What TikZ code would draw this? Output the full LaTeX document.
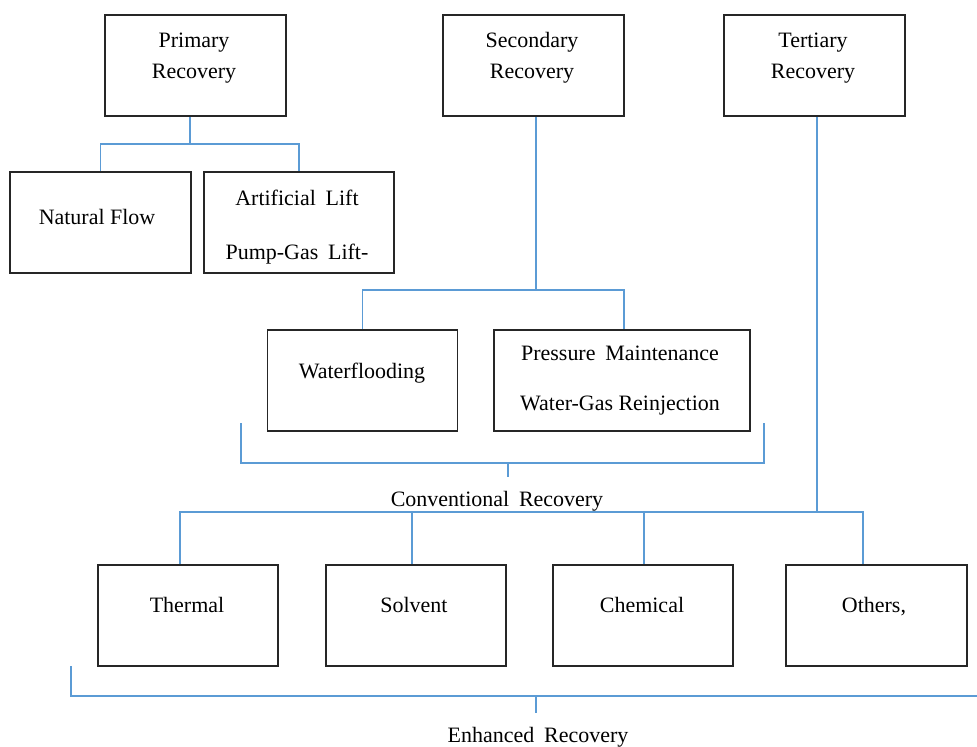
\documentclass[tikz,border=0pt]{standalone}
\usepackage{fontspec}
\setmainfont{Liberation Serif}
\definecolor{linkblue}{RGB}{91,155,213}
\newcommand{\gap}{\hspace{0.45em}}

\begin{document}
\begin{tikzpicture}[x=0.02cm,y=-0.02cm]
        \tikzset{box/.style = {shape=rectangle,draw=black!85,line width=0.9pt,minimum width=3.62cm,minimum height=2.02cm,inner sep=0pt}}
        \tikzset{txt/.style = {align=center,inner sep=0pt,font=\fontsize{12.5}{15}\selectfont}}
        \tikzset{one/.style = {txt,text height=1.5ex,text depth=.25ex}}
        \tikzset{link/.style = {draw=linkblue,line width=0.8pt}}
        \tikzset{bar/.style = {draw=linkblue,line width=1.2pt}}
        \useasboundingbox (0,0) rectangle (977,747);
        % top row
        \node[box] (prim) at (195.5,65.5) {};
        \node[box] (sec) at (533.5,65.5) {};
        \node[box] (tert) at (814.5,65.5) {};
        \node[txt] (primtxt) at (194,58) {Primary\\[2.6pt] Recovery};
        \node[txt] (sectxt) at (532,58) {Secondary\\[2.6pt] Recovery};
        \node[txt] (terttxt) at (813,58) {Tertiary\\[2.6pt] Recovery};
        % primary branch
        \node[box] (nat) at (100.5,222.5) {};
        \node[box,minimum width=3.8cm] (art) at (299,222.5) {};
        \node[one] (nattxt) at (97,219) {Natural Flow};
        \node[txt] (arttxt) at (297,227) {Artificial\gap Lift\\[15.6pt] Pump-Gas\gap Lift-};
        \coordinate (pj) at (190,144);
        \draw[link] (prim.south -| pj) -- (pj);
        \draw[link] (nat.north) |- (pj) -| (art.north);
        % secondary branch
        \node[box,minimum width=3.8cm] (wat) at (362.5,380.5) {};
        \node[box,minimum width=5.12cm] (pres) at (622,380.5) {};
        \node[one] (wattxt) at (362,373) {Waterflooding};
        \node[txt] (prestxt) at (620,381) {Pressure\gap Maintenance\\[13.4pt] Water-Gas Reinjection};
        \coordinate (sj) at (536,290);
        \draw[link] (sec.south -| sj) -- (sj);
        \draw[link] (wat.north) |- (sj) -| (pres.north -| 624,0);
        % conventional bracket
        \coordinate (cl) at (241,423);
        \coordinate (cr) at (764,423);
        \coordinate (cm) at (508,463);
        \coordinate (ct) at (508,477);
        \draw[bar] (cl) |- (cm) -| (cr);
        \draw[link] (cm) -- (ct);
        \node[one] (conv) at (497,501) {Conventional\gap Recovery};
        % tertiary branch
        \node[box,minimum width=3.6cm] (therm) at (188,615.5) {};
        \node[box,minimum width=3.6cm] (solv) at (416,615.5) {};
        \node[box,minimum width=3.6cm] (chem) at (643,615.5) {};
        \node[box,minimum width=3.62cm] (oth) at (876.5,615.5) {};
        \node[one] (thermtxt) at (187,607) {Thermal};
        \node[one] (solvtxt) at (414,607) {Solvent};
        \node[one] (chemtxt) at (642,607) {Chemical};
        \node[one] (othtxt) at (874,607) {Others,};
        \coordinate (tj) at (817,512);
        \draw[link] (tert.south -| tj) -- (tj);
        \draw[link] (therm.north -| 180,0) |- (tj) -| (oth.north -| 863,0);
        \draw[link] (solv.north -| 412,0) -- (tj -| 412,0);
        \draw[link] (chem.north -| 644,0) -- (tj -| 644,0);
        % enhanced bracket
        \coordinate (el) at (71,666);
        \coordinate (em) at (536,696);
        \coordinate (er) at (977,696);
        \coordinate (et) at (536,713);
        \draw[bar] (el) |- (em) -- (er);
        \draw[link] (em) -- (et);
        \node[one] (enh) at (538,737) {Enhanced\gap Recovery};
\end{tikzpicture}
\end{document}
